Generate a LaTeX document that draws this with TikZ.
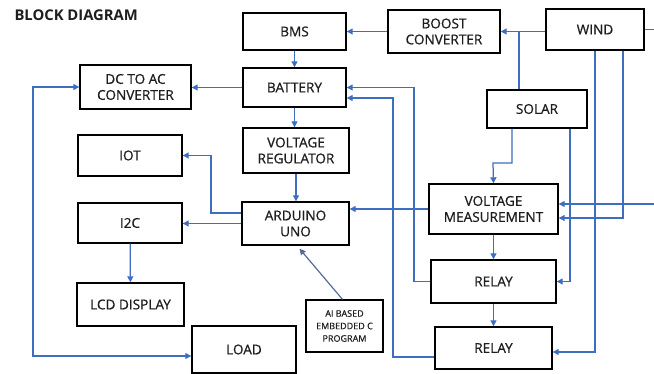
\documentclass[tikz,border=0pt]{standalone}
\usepackage{fontspec}
\setmainfont{Open Sans}
\newfontfamily\blockfont{Open Sans}[FakeBold=0.7]
\usetikzlibrary{arrows.meta,calc}
\definecolor{wireblue}{RGB}{62,110,192}
\definecolor{progline}{RGB}{86,108,150}
\definecolor{inkgray}{RGB}{30,30,30}

\begin{document}
\begin{tikzpicture}[x=1pt, y=-1pt,
    block/.style={draw=black, line width=1.4pt, fill=white, inner sep=0pt,
        align=center, text=inkgray, font=\blockfont\fontsize{13.6}{16}\selectfont},
    wire/.style={draw=wireblue, line width=1.25pt, -{Triangle[length=6pt,width=6pt]}},
    twowire/.style={wire, {Triangle[length=6pt,width=6pt]}-{Triangle[length=6pt,width=6pt]}},
    progwire/.style={draw=progline, line width=1.2pt, -{Triangle[length=6pt,width=6pt]}}]
    \useasboundingbox (0,0) rectangle (654,374);
    \clip (0,0) rectangle (654,374);

    % =========================================================
    % TITLE
    % =========================================================
    \node[anchor=west, font=\fontsize{14.8}{16}\selectfont\bfseries, text=inkgray] (title) at (11,15) {BLOCK DIAGRAM};

    % =========================================================
    % BLOCKS
    % =========================================================
    % Power chain
    \node[block, minimum width=103pt, minimum height=37pt] (bms) at (294.5,31.5) {BMS};
    \node[block, minimum width=112pt, minimum height=43pt] (boost) at (444,31.5) {BOOST\\CONVERTER};
    \node[block, minimum width=98pt, minimum height=41pt] (wind) at (595,29.5) {WIND};
    \node[block, minimum width=100pt, minimum height=38pt] (solar) at (537,109) {SOLAR};
    \node[block, minimum width=103pt, minimum height=39pt] (battery) at (294.5,87.5) {BATTERY};
    \node[block, minimum width=111pt, minimum height=44pt] (dcac) at (135.5,87) {DC TO AC\\CONVERTER};
    \node[block, minimum width=104pt, minimum height=47pt] (load) at (244,349.5) {LOAD};

    % Control side
    \node[block, minimum width=106pt, minimum height=45pt] (vreg) at (296,150.5) {VOLTAGE\\REGULATOR};
    \node[block, minimum width=107pt, minimum height=43pt] (arduino) at (295.5,223.5) {ARDUINO\\UNO};
    \node[block, minimum width=104pt, minimum height=41pt] (iot) at (130,155.5) {IOT};
    \node[block, minimum width=104pt, minimum height=40pt] (i2c) at (130,223) {I2C};
    \node[block, minimum width=107pt, minimum height=43pt] (lcd) at (130.5,304.5) {LCD DISPLAY};
    \node[block, minimum width=77pt, minimum height=52pt, line width=1.2pt,
        font=\blockfont\fontsize{9}{12.5}\selectfont] (aiprog) at (344.5,326) {AI BASED\\EMBEDDED C\\PROGRAM};

    % Measurement and switching
    \node[block, minimum width=129pt, minimum height=50pt] (vmeas) at (493.5,209) {VOLTAGE\\MEASUREMENT};
    \node[block, minimum width=125pt, minimum height=43pt] (relay1) at (493.5,281.5) {RELAY};
    \node[block, minimum width=117pt, minimum height=42pt] (relay2) at (493.5,348) {RELAY};

    % =========================================================
    % CONNECTIONS
    % =========================================================
    \coordinate (windout) at (664,29.5);

    % Sources into the boost converter
    \draw[wire] (wind.west |- boost.east) -- (boost.east);
    \draw[draw=wireblue, line width=1.25pt] (solar.north -| 519,0) -- (519,0 |- boost.east);
    \draw[wire] (boost.west) -- (bms.east);
    \draw[wire] (bms) -- (battery);

    % Battery outputs
    \draw[wire] (battery.west) -- (battery.west -| dcac.east);
    \draw[wire] (battery.south) -- (battery.south |- vreg.north);
    \draw[wire] (vreg.south) -- (vreg.south |- arduino.north);
    \draw[twowire] (dcac.west) -- (33,0 |- dcac.west) |- (load.west |- 0,356);

    % Arduino outputs
    \draw[wire] (arduino.west |- 0,213) -- (211,213) |- (iot.east);
    \draw[wire] (arduino.west) -- (arduino.west -| i2c.east);
    \draw[wire] (i2c) -- (lcd);
    \draw[progwire] ([xshift=-2pt]aiprog.north) -- ([xshift=4pt,yshift=-3pt]arduino.south);

    % Measurement
    \draw[wire] (solar.south -| 512,0) |- (493,163) -- (vmeas.north);
    \draw[wire] (vmeas.west) -- (vmeas.west -| arduino.east);
    \draw[wire] (windout) |- (vmeas.east |- 0,204);
    \draw[draw=wireblue, line width=1.25pt] (wind.east) -- (windout);
    \draw[wire] (wind.south -| 623,0) |- (vmeas.east |- 0,218);

    % Relays
    \draw[wire] (vmeas) -- (relay1);
    \draw[wire] (relay1) -- (relay2);
    \draw[wire] (solar.south -| 570,0) |- (relay1.east);
    \draw[wire] (wind.south) |- (relay2.east |- 0,352);
    \draw[wire] (relay1.west) -| (414,0 |- battery.east) -- (battery.east);
    \draw[wire] (relay2.west |- 0,357) -| (393,98) -- (battery.east |- 0,98);
\end{tikzpicture}
\end{document}
